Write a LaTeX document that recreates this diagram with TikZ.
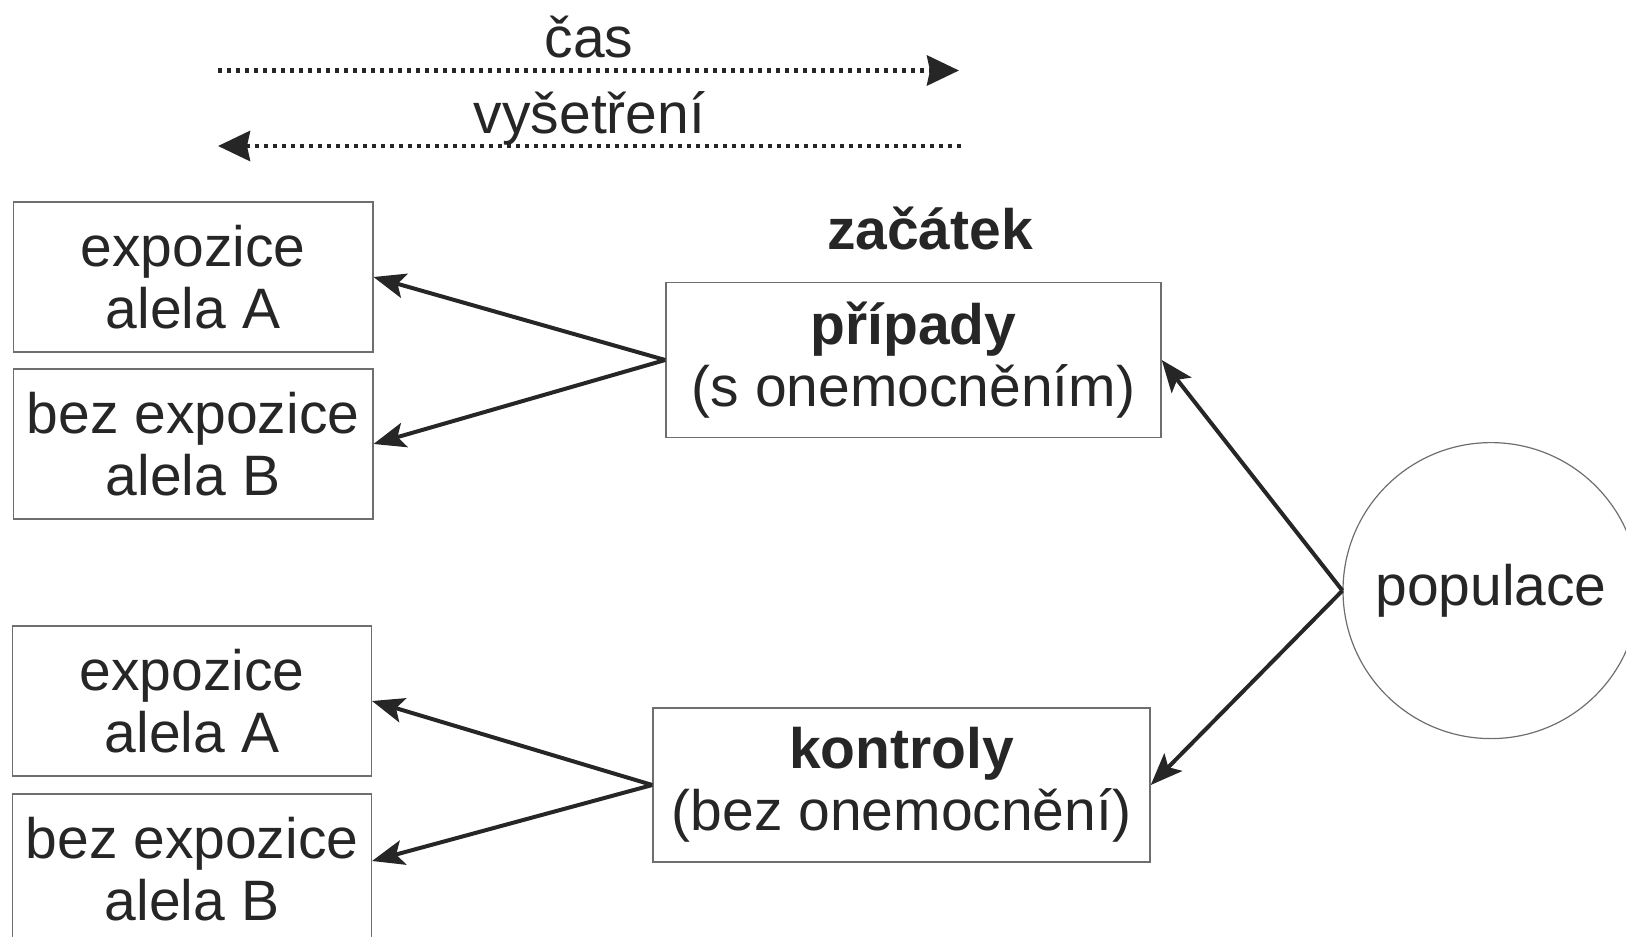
\documentclass[tikz,border=0pt]{standalone}
\usepackage{fontspec}
\setmainfont{Liberation Sans}
\usetikzlibrary{arrows.meta}
\definecolor{ink}{HTML}{262626}
\definecolor{frame}{HTML}{6E6E6E}
\begin{document}
\begin{tikzpicture}[x=1pt,y=-1pt,
  every node/.style={text=ink, font=\fontsize{57}{62}\selectfont},
  box/.style={draw=frame, line width=1.5pt, inner sep=0pt, align=center, minimum height=150pt},
  arr/.style={draw=ink, line width=4pt, -{Stealth[length=32pt,width=25pt,inset=7pt]}},
  dots/.style={draw=ink, line width=4.5pt, dash pattern=on 4pt off 5pt, -{Stealth[length=32pt,width=30pt,inset=3pt]}}]
\useasboundingbox (0,0) rectangle (1626,937);
\clip (0,0) rectangle (1626,937);
% time arrows
\node[anchor=base] (cas) at (589,57) {čas};
\coordinate (c1) at (218,70.5);
\coordinate (c2) at (959,70.5);
\draw[dots] (c1) -- (c2);
\node[anchor=base] (vys) at (589.5,133) {vyšetření};
\coordinate (v1) at (961,146);
\coordinate (v2) at (218,146);
\draw[dots] (v1) -- (v2);
\node[anchor=base] (zac) at (930,249) {\bfseries začátek};
% boxes
\node[box, minimum width=359.5pt] (b1) at (193,277) {expozice\\alela A};
\node[box, minimum width=359.5pt] (b2) at (193,444) {bez expozice\\alela B};
\node[box, minimum width=358.6pt] (b3) at (192,701) {expozice\\alela A};
\node[box, minimum width=358.6pt] (b4) at (192,869) {bez expozice\\alela B};
\node[box, minimum width=495pt, minimum height=154.6pt] (pripady) at (913.5,360) {\textbf{případy}\\(s onemocněním)};
\node[box, minimum width=497pt, minimum height=154pt] (kontroly) at (901.5,785) {\textbf{kontroly}\\(bez onemocnění)};
\node[circle, draw=frame, line width=1.2pt, minimum size=296pt, inner sep=0pt] (pop) at (1491,590.6) {populace};
% connectors
\draw[arr] (pripady.west) -- (b1.east);
\draw[arr] (pripady.west) -- (b2.east);
\draw[arr] (kontroly.west) -- (b3.east);
\draw[arr] (kontroly.west) -- ([yshift=8pt]b4.east);
\draw[arr] (pop.west) -- (pripady.east);
\draw[arr] (pop.west) -- (kontroly.east);
\end{tikzpicture}
\end{document}
